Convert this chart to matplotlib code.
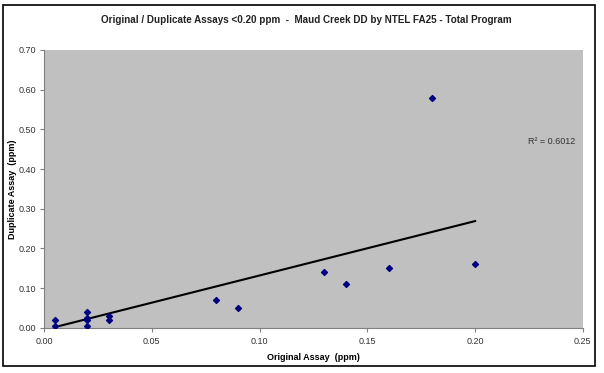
from matplotlib import pyplot as plt
from matplotlib.patches import Rectangle
import numpy as np

plt.rcParams['font.family'] = ['Liberation Sans', 'DejaVu Sans']

# original vs duplicate assays (ppm)
original = [0.005, 0.005, 0.02, 0.02, 0.02, 0.02, 0.03, 0.03, 0.08, 0.09, 0.13, 0.14, 0.16, 0.18, 0.20]
duplicate = [0.02, 0.005, 0.04, 0.025, 0.02, 0.005, 0.03, 0.02, 0.07, 0.05, 0.14, 0.11, 0.15, 0.58, 0.16]
# linear trendline
trend_slope = 1.37
trend_intercept = -0.005
r2_text = 'R² = 0.6012'
x_ticks = [0.00, 0.05, 0.10, 0.15, 0.20, 0.25]
y_ticks = [0.00, 0.10, 0.20, 0.30, 0.40, 0.50, 0.60, 0.70]

fig = plt.figure(figsize=(6.04, 3.73), dpi=100)
ax = fig.add_axes([0.073, 0.121, 0.892, 0.745])
ax.set_facecolor('#c0c0c0')

ax.scatter(original, duplicate, marker='D', s=9, color='#000080', zorder=3)

xs = np.array([min(original), max(original)])
ax.plot(xs, trend_slope * xs + trend_intercept, color='black', lw=1.5, zorder=2)

ax.set_xlim(0, 0.25)
ax.set_ylim(0, 0.70)
ax.set_xticks(x_ticks)
ax.set_yticks(y_ticks)
ax.set_xticklabels([f'{v:.2f}' for v in x_ticks])
ax.set_yticklabels([f'{v:.2f}' for v in y_ticks])
ax.tick_params(labelsize=6.5, length=3, color='#808080', labelcolor='#333333')
ax.tick_params(axis='y', pad=2.5)
for s in ['top', 'right']:
    ax.spines[s].set_visible(False)
for s in ['left', 'bottom']:
    ax.spines[s].set_color('#808080')

ax.text(0.2245, 0.47, r2_text, fontsize=6.5, color='#333333', va='center')

ax.set_xlabel('Original Assay  (ppm)', fontsize=6.5, fontweight='bold', labelpad=5)
ax.set_ylabel('Duplicate Assay  (ppm)', fontsize=6.5, fontweight='bold')
ax.yaxis.set_label_coords(-0.051, 0.5)
fig.text(0.5075, 0.946, 'Original / Duplicate Assays <0.20 ppm  -  Maud Creek DD by NTEL FA25 - Total Program',
         ha='center', va='center', fontsize=7.1, fontweight='bold', color='#222222')

fig.patches.append(Rectangle((0.005, 0.0188), 0.980, 0.968, transform=fig.transFigure,
                             fill=False, edgecolor='black', lw=1.2))

fig.savefig('out.png', dpi=100)
